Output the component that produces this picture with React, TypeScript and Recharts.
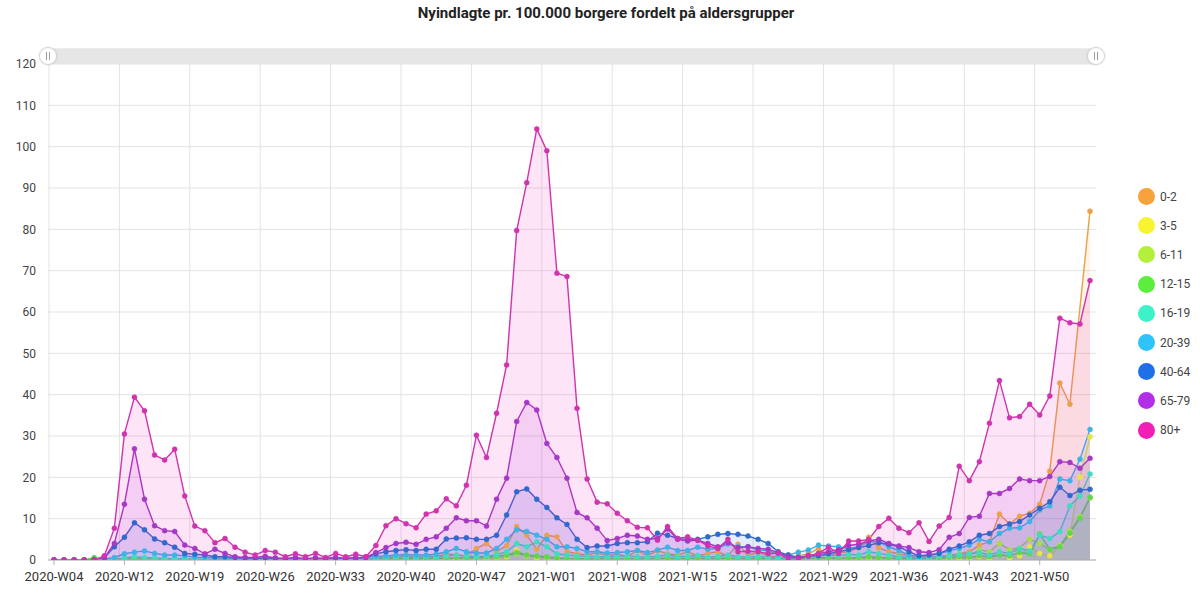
import React from 'react';
import { AreaChart, Area, XAxis, YAxis, CartesianGrid, Legend } from 'recharts';

const weeks: string[] = [
  '2020-W04', '2020-W06', '2020-W07', '2020-W08', '2020-W09', '2020-W10', '2020-W11', '2020-W12', '2020-W13', '2020-W14',
  '2020-W15', '2020-W16', '2020-W17', '2020-W18', '2020-W19', '2020-W20', '2020-W21', '2020-W22', '2020-W23', '2020-W24',
  '2020-W25', '2020-W26', '2020-W27', '2020-W28', '2020-W29', '2020-W30', '2020-W31', '2020-W32', '2020-W33', '2020-W34',
  '2020-W35', '2020-W36', '2020-W37', '2020-W38', '2020-W39', '2020-W40', '2020-W41', '2020-W42', '2020-W43', '2020-W44',
  '2020-W45', '2020-W46', '2020-W47', '2020-W48', '2020-W49', '2020-W50', '2020-W51', '2020-W52', '2020-W53', '2021-W01',
  '2021-W02', '2021-W03', '2021-W04', '2021-W05', '2021-W06', '2021-W07', '2021-W08', '2021-W09', '2021-W10', '2021-W11',
  '2021-W12', '2021-W13', '2021-W14', '2021-W15', '2021-W16', '2021-W17', '2021-W18', '2021-W19', '2021-W20', '2021-W21',
  '2021-W22', '2021-W23', '2021-W24', '2021-W25', '2021-W26', '2021-W27', '2021-W28', '2021-W29', '2021-W30', '2021-W31',
  '2021-W32', '2021-W33', '2021-W34', '2021-W35', '2021-W36', '2021-W37', '2021-W38', '2021-W39', '2021-W40', '2021-W41',
  '2021-W42', '2021-W43', '2021-W44', '2021-W45', '2021-W46', '2021-W47', '2021-W48', '2021-W49', '2021-W50', '2021-W51',
  '2021-W52', '2022-W01', '2022-W02', '2022-W03',
];

const age80plus: number[] = [
  0, 0, 0, 0, 0, 1.0, 7.7, 30.5, 39.4, 36.1,
  25.4, 24.2, 26.8, 15.5, 8.2, 7.1, 4.2, 5.2, 3.1, 1.9,
  1.2, 2.3, 1.9, 0.8, 1.5, 0.8, 1.6, 0.6, 1.6, 0.8,
  1.4, 0.8, 3.5, 8.3, 10.0, 8.8, 7.8, 11.1, 11.9, 14.8,
  13.1, 18.1, 30.2, 24.8, 35.5, 47.2, 79.7, 91.3, 104.3, 99.0,
  69.4, 68.6, 36.7, 19.6, 14.0, 13.6, 11.3, 9.5, 7.9, 7.8,
  4.8, 8.1, 5.2, 5.6, 4.8, 3.4, 2.8, 5.0, 2.0, 2.1,
  2.0, 1.5, 1.7, 0.2, 0.2, 1.0, 1.6, 3.1, 1.6, 4.6,
  4.6, 5.0, 8.1, 10.1, 7.7, 6.6, 9.0, 4.5, 8.2, 10.3,
  22.7, 19.2, 23.8, 33.1, 43.4, 34.4, 34.7, 37.7, 35.1, 39.7,
  58.5, 57.4, 57.1, 67.6,
];

const age65to79: number[] = [
  0, 0, 0, 0, 0, 0.5, 4.0, 13.5, 26.9, 14.7,
  8.3, 7.1, 6.9, 3.6, 2.8, 1.5, 2.6, 1.6, 0.8, 0.6,
  0.6, 0.9, 0.5, 0.4, 0.6, 0.3, 0.5, 0.4, 0.6, 0.4,
  0.5, 0.7, 1.8, 3.0, 4.0, 4.3, 3.8, 5.0, 5.6, 7.7,
  10.2, 9.5, 9.5, 8.2, 14.7, 19.8, 33.5, 38.1, 36.3, 28.2,
  24.8, 19.8, 11.5, 10.2, 7.7, 4.7, 5.2, 6.0, 5.8, 5.0,
  5.2, 7.5, 5.0, 4.6, 4.8, 4.0, 3.2, 4.2, 3.0, 3.2,
  2.8, 2.6, 1.8, 0.8, 0.6, 1.0, 1.5, 2.0, 2.5, 3.5,
  3.8, 4.6, 5.0, 4.0, 3.4, 3.0, 2.0, 1.8, 2.5, 5.5,
  6.4, 10.3, 10.6, 16.1, 16.1, 17.3, 19.6, 19.2, 19.2, 20.2,
  23.8, 23.6, 22.2, 24.6,
];

const age40to64: number[] = [
  0, 0, 0, 0, 0.1, 0.5, 3.2, 5.5, 9.0, 7.3,
  5.1, 4.2, 3.1, 1.6, 1.4, 1.2, 0.8, 0.8, 0.6, 0.5,
  0.4, 0.5, 0.4, 0.3, 0.4, 0.3, 0.4, 0.3, 0.5, 0.4,
  0.5, 0.6, 1.5, 2.0, 2.3, 2.5, 2.3, 2.6, 2.6, 5.1,
  5.3, 5.4, 5.0, 5.0, 6.0, 10.9, 16.5, 17.2, 14.7, 12.7,
  10.2, 8.6, 5.0, 3.0, 3.4, 3.4, 4.0, 4.2, 4.2, 4.4,
  6.5, 6.0, 5.2, 5.0, 5.0, 5.6, 6.2, 6.4, 6.2, 5.8,
  5.0, 4.0, 2.0, 1.2, 0.6, 1.0, 1.0, 1.5, 2.0, 2.5,
  3.0, 3.5, 4.2, 3.8, 3.2, 2.0, 1.0, 1.2, 1.6, 2.6,
  3.4, 4.4, 6.0, 6.4, 8.1, 8.7, 9.3, 10.9, 12.5, 14.1,
  17.6, 15.6, 16.9, 17.1,
];

const age20to39: number[] = [
  0, 0, 0, 0, 0, 0.2, 0.6, 1.5, 1.9, 2.2,
  1.6, 1.2, 1.2, 1.0, 0.7, 0.6, 0.5, 0.4, 0.3, 0.3,
  0.2, 0.3, 0.2, 0.2, 0.3, 0.2, 0.3, 0.2, 0.3, 0.4,
  0.5, 0.6, 0.9, 1.0, 1.2, 1.3, 1.2, 1.2, 1.4, 2.0,
  2.8, 2.0, 1.7, 1.7, 2.8, 5.0, 7.3, 6.9, 6.0, 5.0,
  3.2, 3.2, 2.8, 2.0, 2.0, 1.7, 1.8, 2.0, 2.3, 1.8,
  2.4, 3.1, 2.3, 2.3, 3.1, 2.6, 2.8, 3.9, 3.2, 3.2,
  2.4, 2.3, 1.3, 1.2, 1.9, 2.4, 3.6, 3.4, 3.2, 2.8,
  3.2, 4.4, 4.4, 3.2, 2.3, 1.2, 0.9, 1.2, 1.5, 2.2,
  2.8, 3.6, 5.0, 4.4, 6.4, 7.7, 7.8, 9.3, 12.1, 13.1,
  19.6, 19.2, 24.4, 31.6,
];

const age16to19: number[] = [
  0, 0, 0, 0, 0, 0, 0.2, 0.5, 0.8, 0.6,
  0.5, 0.4, 0.3, 0.3, 0.2, 0.2, 0.1, 0.2, 0.1, 0.1,
  0.1, 0.1, 0.1, 0.1, 0.1, 0.1, 0.1, 0.1, 0.2, 0.1,
  0.2, 0.2, 0.4, 0.6, 0.8, 0.7, 0.6, 0.8, 0.7, 1.0,
  1.2, 1.0, 0.8, 1.0, 1.3, 2.0, 4.0, 3.2, 4.4, 3.2,
  1.5, 1.2, 1.0, 0.9, 0.8, 0.8, 0.9, 1.0, 0.8, 0.7,
  0.9, 1.2, 0.8, 0.9, 1.1, 0.7, 0.9, 1.2, 0.8, 0.7,
  0.9, 0.6, 0.5, 0.4, 0.6, 0.8, 1.0, 1.2, 1.0, 1.4,
  1.2, 2.0, 1.6, 1.2, 0.8, 0.6, 0.5, 0.6, 0.9, 1.0,
  1.3, 1.5, 1.8, 1.2, 2.0, 1.6, 2.8, 2.2, 6.0, 5.2,
  6.9, 13.1, 15.5, 20.8,
];

const age12to15: number[] = [
  0, 0, 0, 0, 0.6, 0, 0.1, 0.2, 0.3, 0.2,
  0.2, 0.1, 0.1, 0.1, 0.1, 0.1, 0.1, 0.1, 0.1, 0.1,
  0.1, 0.1, 0.1, 0.1, 0.1, 0.1, 0.1, 0.1, 0.1, 0.1,
  0.1, 0.1, 0.2, 0.3, 0.3, 0.4, 0.3, 0.4, 0.5, 0.4,
  0.6, 0.5, 0.6, 0.8, 0.9, 1.2, 1.8, 1.2, 1.0, 0.8,
  0.5, 0.4, 0.4, 0.3, 0.3, 0.4, 0.3, 0.4, 0.3, 0.3,
  0.4, 0.5, 0.3, 0.4, 0.5, 0.3, 0.4, 0.5, 0.3, 0.3,
  0.4, 0.3, 0.2, 0.2, 0.3, 0.4, 0.5, 0.6, 0.4, 0.5,
  0.6, 0.8, 0.6, 0.5, 0.4, 0.3, 0.3, 0.4, 0.5, 0.6,
  0.8, 0.7, 1.0, 0.8, 1.2, 1.0, 1.8, 1.5, 6.3, 2.6,
  3.2, 6.5, 10.1, 15.2,
];

const age6to11: number[] = [
  0, 0, 0, 0, 0.3, 0, 0.1, 0.2, 0.2, 0.2,
  0.1, 0.1, 0.1, 0.1, 0.1, 0.1, 0.1, 0.1, 0.1, 0.1,
  0.1, 0.1, 0.1, 0.1, 0.1, 0.1, 0.1, 0.1, 0.1, 0.1,
  0.1, 0.1, 0.2, 0.2, 0.3, 0.3, 0.2, 0.3, 0.3, 0.4,
  0.4, 0.5, 0.5, 0.6, 0.5, 1.0, 1.5, 1.0, 0.8, 0.6,
  0.4, 0.3, 0.3, 0.3, 0.2, 0.3, 0.3, 0.2, 0.3, 0.3,
  0.3, 0.4, 0.3, 0.3, 0.4, 0.3, 0.3, 0.4, 0.3, 0.2,
  0.3, 0.2, 0.2, 0.2, 0.2, 0.3, 0.4, 0.5, 0.4, 0.4,
  0.5, 0.6, 0.5, 0.4, 0.3, 0.3, 0.3, 0.3, 0.4, 1.0,
  1.5, 1.0, 2.5, 2.0, 4.0, 2.5, 3.0, 5.0, 4.0, 2.5,
  3.5, 7.0, 10.5, 15.0,
];

const age3to5: number[] = [
  0, 0, 0, 0, 0, 0, 0, 0.1, 0.1, 0.1,
  0.1, 0.1, 0, 0, 0, 0, 0, 0, 0, 0,
  0, 0, 0, 0, 0, 0, 0, 0, 0, 0,
  0, 0, 0.1, 0.1, 0.2, 0.2, 0.1, 0.2, 0.2, 0.3,
  0.3, 0.2, 0.4, 0.5, 0.6, 0.8, 2.4, 1.0, 0.5, 0.6,
  0.3, 0.2, 0.2, 0.2, 0.1, 0.2, 0.2, 0.1, 0.2, 0.1,
  0.2, 0.2, 0.1, 0.2, 0.2, 0.1, 0.2, 0.2, 0.1, 0.1,
  0.2, 0.1, 0.1, 0.1, 0.1, 0.2, 0.2, 0.3, 0.2, 0.2,
  0.3, 0.4, 0.3, 0.2, 0.2, 0.1, 0.1, 0.2, 0.2, 0.3,
  0.5, 0.4, 0.8, 0, 1.8, 0.5, 1.0, 3.2, 1.6, 1.0,
  3.5, 6.0, 20.0, 29.8,
];

const age0to2: (number | null)[] = [
  0, 0, 0, 0, 0, 0, 0, 0.2, 0.3, 0.2,
  0.2, 0.1, 0.1, 0.1, 0, 0, 0, 0, 0, 0,
  0, 0, 0, 0, 0, 0, 0, 0, 0, 0,
  0, 0, 0.5, 0.8, 0.6, 1.2, 0.5, 1.0, 0.8, 1.5,
  1.2, 1.0, 2.8, 4.0, 2.0, 3.5, 8.1, 6.0, 2.6, 6.0,
  5.6, 2.0, 1.5, 1.2, 1.8, 1.0, 1.5, 0.8, 2.3, 1.0,
  2.3, 1.5, 1.2, 2.0, 1.0, 1.6, 2.0, 1.0, 3.8, 1.2,
  1.8, 1.0, 0.8, 0.5, 1.0, 1.5, 2.8, 1.0, 1.8, 2.0,
  3.0, 5.5, 3.0, 2.0, 1.5, 1.0, 0.5, 1.0, 0.8, 1.2,
  1.5, 2.0, 3.6, 4.4, 11.1, 8.7, 10.6, 11.3, 13.5, 21.5,
  42.8, 37.7, null, 84.4,
];

const yTicks: number[] = [0, 10, 20, 30, 40, 50, 60, 70, 80, 90, 100, 110, 120];

const legendOrder: string[] = ['0-2', '3-5', '6-11', '12-15', '16-19', '20-39', '40-64', '65-79', '80+'];

const legendColors: Record<string, string> = {
  '0-2': '#f7a23a',
  '3-5': '#f8f530',
  '6-11': '#b4ef3c',
  '12-15': '#5cee3c',
  '16-19': '#3cf3c9',
  '20-39': '#2fc4f7',
  '40-64': '#1f6fe9',
  '65-79': '#b22fe7',
  '80+': '#f21fb5',
};

const lineColors: Record<string, string> = {
  '0-2': '#eba04a',
  '3-5': '#e8e440',
  '6-11': '#a8dc45',
  '12-15': '#5cd848',
  '16-19': '#40dcc0',
  '20-39': '#3ab4e6',
  '40-64': '#2f69cc',
  '65-79': '#a538c4',
  '80+': '#cf34ae',
};

const seriesValues: Record<string, (number | null)[]> = {
  '0-2': age0to2,
  '3-5': age3to5,
  '6-11': age6to11,
  '12-15': age12to15,
  '16-19': age16to19,
  '20-39': age20to39,
  '40-64': age40to64,
  '65-79': age65to79,
  '80+': age80plus,
};

const data = weeks.map((w, i) => {
  const row: Record<string, string | number | null> = { week: w };
  legendOrder.forEach((k) => {
    row[k] = seriesValues[k][i];
  });
  return row;
});

const PAD_L = 6;
const PAD_R = 6;
const TICK_EVERY = 7;

const verticalLines = ({ offset }: any) => {
  const n = weeks.length;
  const step = (offset.width - PAD_L - PAD_R) / (n - 1);
  const out: number[] = [];
  for (let k = 0; k < n; k += TICK_EVERY) {
    out.push(offset.left + PAD_L + step * k - step / 2);
  }
  return out;
};

const renderLegend = () => (
  <div style={{ display: 'flex', flexDirection: 'column', fontFamily: 'Roboto, sans-serif' }}>
    {legendOrder.map((k) => (
      <div key={k} style={{ display: 'flex', alignItems: 'center', height: 29.2 }}>
        <span
          style={{
            display: 'inline-block',
            width: 17,
            height: 17,
            borderRadius: 9,
            background: legendColors[k],
            marginRight: 5,
          }}
        />
        <span style={{ fontSize: 12, color: '#444' }}>{k}</span>
      </div>
    ))}
  </div>
);

const Slider = () => (
  <>
    <div
      style={{
        position: 'absolute',
        left: 48,
        top: 48,
        width: 1048,
        height: 16,
        background: '#e6e6e6',
        borderTop: '1px solid #ececec',
        boxSizing: 'border-box',
      }}
    />
    {[48, 1096].map((cx) => (
      <div
        key={cx}
        style={{
          position: 'absolute',
          left: cx - 9,
          top: 47,
          width: 18,
          height: 18,
          borderRadius: 9,
          background: '#fff',
          border: '1px solid #d6d6d6',
          boxSizing: 'border-box',
          boxShadow: '0 0 2px rgba(0,0,0,0.15)',
        }}
      >
        <div style={{ position: 'absolute', left: 6, top: 4, width: 1, height: 8, background: '#999' }} />
        <div style={{ position: 'absolute', left: 9, top: 4, width: 1, height: 8, background: '#999' }} />
      </div>
    ))}
  </>
);

export default function App() {
  return (
    <div style={{ position: 'absolute', left: 0, top: 0, width: 1200, height: 595, background: '#fff' }}>
      <div
        style={{
          position: 'absolute',
          left: 306,
          top: 4,
          width: 600,
          textAlign: 'center',
          fontFamily: 'Roboto, sans-serif',
          fontWeight: 700,
          fontSize: 15,
          color: '#222',
        }}
      >
        Nyindlagte pr. 100.000 borgere fordelt på aldersgrupper
      </div>
      <div style={{ position: 'absolute', left: 0, top: 0 }}>
        <AreaChart
          width={1200}
          height={595}
          data={data}
          margin={{ top: 64, right: 104, bottom: 0, left: 0 }}
          style={{ fontFamily: 'Roboto, sans-serif' }}
        >
          <CartesianGrid stroke="#e3e3e3" verticalCoordinatesGenerator={verticalLines} />
          <XAxis
            dataKey="week"
            interval={TICK_EVERY - 1}
            padding={{ left: PAD_L, right: PAD_R }}
            height={35}
            tickSize={5}
            tickMargin={7}
            stroke="#b0b0b0"
            tick={{ fontSize: 13, fill: '#333' }}
          />
          <YAxis
            domain={[0, 120]}
            ticks={yTicks}
            width={48}
            axisLine={false}
            tickLine={false}
            tickSize={6}
            tickMargin={6}
            tick={{ fontSize: 12, fill: '#444' }}
            allowDataOverflow
          />
          <Legend
            layout="vertical"
            align="center"
            verticalAlign="middle"
            content={renderLegend}
            wrapperStyle={{ position: 'absolute', left: 1138, top: 182, width: 60 }}
          />
          {legendOrder.map((k) => (
            <Area
              key={k}
              type="linear"
              dataKey={k}
              name={k}
              stroke={lineColors[k]}
              strokeWidth={1.4}
              fill={legendColors[k]}
              fillOpacity={0.12}
              connectNulls
              dot={{ r: 2.5, fill: lineColors[k], fillOpacity: 1, stroke: lineColors[k], strokeWidth: 0.5 }}
              activeDot={false}
              isAnimationActive={false}
            />
          ))}
        </AreaChart>
      </div>
      <Slider />
    </div>
  );
}
